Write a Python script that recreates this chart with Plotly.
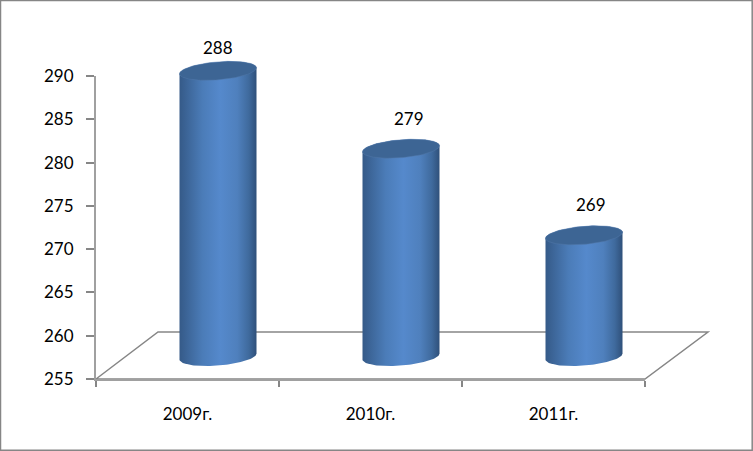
import numpy as np
import plotly.graph_objects as go

W, H = 753, 451
years = ["2009г.", "2010г.", "2011г."]
values = [288, 279, 269]
label_dx = [0, 8, 6.5]
label_dy = [23, 30, 30.5]
y_ticks = [255, 260, 265, 270, 275, 280, 285, 290]

GREY = "#868686"
AXIS = "#a0a0a0"
FONT = "Lato"
TEXT = "#000000"

# pixel geometry of the pseudo-3D frame
X0, X1, Y0, Y1 = 96, 645, 379, 76          # front axes
DX_MID, DY_MID = 30.5, 22.5                # bars stand mid-depth in the floor
DX_BACK, DY_BACK = 62, 47                  # back edge of the floor
PX_PER_UNIT = (Y0 - Y1) / 35
PX_PER_CAT = (X1 - X0) / 3
A, B, SKEW = 38.5, 9.0, 3.0                # ellipse half-axes and tilt, px

def px(x):
    return x / W

def py(y):
    return 1 - y / H

t = np.linspace(0, 2 * np.pi, 121)

def rim(cat, base, ts):
    xs = cat + A * np.cos(ts) / PX_PER_CAT
    ys = base + (B * np.sin(ts) + SKEW * np.cos(ts)) / PX_PER_UNIT
    return xs, ys

fig = go.Figure()

# invisible trace keeps the front axes alive
fig.add_trace(go.Scatter(x=[0, 3], y=[255, 290], mode="none", xaxis="x", yaxis="y",
                         showlegend=False, hoverinfo="skip"))

scale = [[0, "#355a88"], [0.3, "#4b7cb8"], [0.53, "#5589cc"], [0.75, "#4f80bd"], [0.9, "#3f6a9d"], [1, "#2f507a"]]
for i, v in enumerate(values):
    c = i + 0.5
    lo = np.linspace(2 * np.pi, np.pi, 61)   # front of the base, right to left
    up = np.linspace(np.pi, 0, 61)           # back of the top, left to right
    bx, by = rim(c, 255, lo)
    tx, ty = rim(c, v, up)
    fig.add_trace(go.Scatter(
        x=np.r_[bx, tx], y=np.r_[by, ty], mode="lines", fill="toself", line=dict(width=0),
        fillgradient=dict(type="horizontal", colorscale=scale),
        xaxis="x2", yaxis="y2", showlegend=False, hoverinfo="skip"))
    ex, ey = rim(c, v, t)
    fig.add_trace(go.Scatter(
        x=ex, y=ey, mode="lines", fill="toself", fillcolor="#3d6594",
        line=dict(width=0.5, color="#5279a8"),
        xaxis="x2", yaxis="y2", showlegend=False, hoverinfo="skip"))

annotations = [dict(x=i + 0.5, y=v, xref="x2", yref="y2", text=str(v), showarrow=False,
                    xshift=label_dx[i], yshift=label_dy[i],
                    font=dict(family=FONT, size=17, color=TEXT))
               for i, v in enumerate(values)]

floor = (f"M{px(X0)},{py(Y0)} L{px(X0 + DX_BACK)},{py(Y0 - DY_BACK)} "
         f"L{px(X1 + DX_BACK + 1)},{py(Y0 - DY_BACK)} L{px(X1)},{py(Y0)} Z")
shapes = [
    dict(type="path", path=floor, xref="paper", yref="paper", layer="below",
         line=dict(color=GREY, width=1.5), fillcolor="rgba(0,0,0,0)"),
    dict(type="rect", x0=px(0.5), x1=px(W - 0.8), y0=py(H - 0.8), y1=py(0.5), xref="paper", yref="paper",
         layer="below", line=dict(color=GREY, width=1.5), fillcolor="rgba(0,0,0,0)"),
]

fig.update_layout(
    width=W, height=H, margin=dict(l=0, r=0, t=0, b=0, autoexpand=False), autosize=False,
    paper_bgcolor="white", plot_bgcolor="rgba(0,0,0,0)", showlegend=False,
    shapes=shapes, annotations=annotations,
    xaxis=dict(domain=[px(X0), px(X1)], range=[0, 3], anchor="y", showgrid=False, zeroline=False,
               tickmode="array", tickvals=[0.5, 1.5, 2.5], ticktext=years, ticks="",
               ticklabelstandoff=19, showline=True, linecolor=AXIS, linewidth=2,
               tickfont=dict(family=FONT, size=17, color=TEXT),
               minor=dict(tickmode="array", tickvals=[0, 1, 2, 3], ticks="outside", ticklen=6,
                          tickwidth=1.5, tickcolor=GREY, showgrid=False)),
    yaxis=dict(domain=[py(Y0), py(Y1)], range=[255, 290], anchor="x", showgrid=False, zeroline=False,
               tickmode="array", tickvals=y_ticks, ticks="outside", ticklen=8, tickwidth=1.5,
               ticklabelstandoff=9,
               tickcolor=GREY, showline=True, linecolor=AXIS, linewidth=2,
               tickfont=dict(family=FONT, size=17, color=TEXT)),
    xaxis2=dict(domain=[px(X0 + DX_MID), px(X1 + DX_MID)], range=[0, 3], anchor="y2", visible=False),
    yaxis2=dict(domain=[py(Y0 - DY_MID + 5 * PX_PER_UNIT), py(Y1 - DY_MID - 5 * PX_PER_UNIT)],
                range=[250, 295], anchor="x2", visible=False),
)

fig.write_html("out.html", config=dict(displayModeBar=False),
               post_script="document.body.style.margin='0';")
